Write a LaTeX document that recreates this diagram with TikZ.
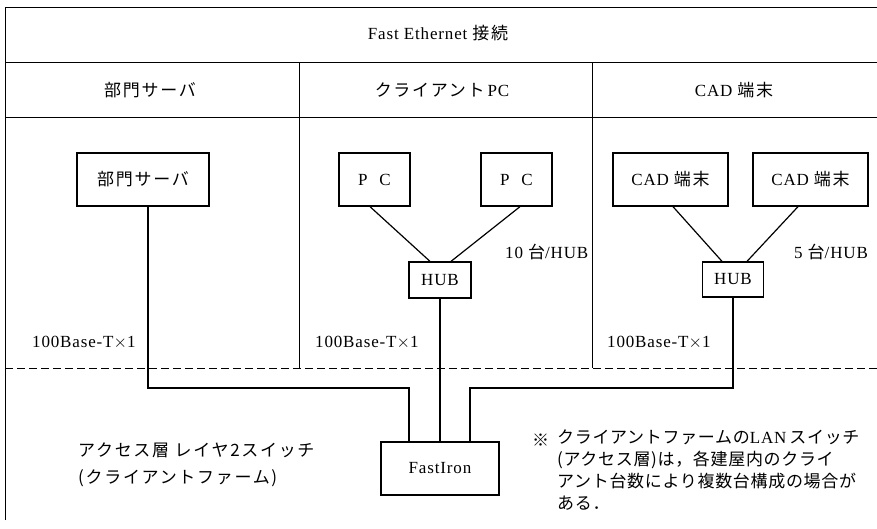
\documentclass[tikz,border=0pt]{standalone}
\usepackage{fontspec}
\setmainfont[LetterSpace=5]{Liberation Serif}
\newfontfamily\jp[LetterSpace=10]{Noto Sans CJK JP}
\newfontfamily\jpnote[LetterSpace=4]{Noto Sans CJK JP}
\newcommand\gap{\hspace{5pt}}
\begin{document}
\begin{tikzpicture}[x=1pt,y=-1pt,
  font=\fontsize{17}{20}\selectfont,
  frameline/.style={line width=1pt},
  sepline/.style={line width=1pt, dash pattern=on 8pt off 4pt},
  box/.style={draw, line width=1.3pt, inner sep=0pt, align=center},
  link/.style={line width=1.2pt},
  lbl/.style={anchor=west, inner sep=0pt}]
\useasboundingbox (0,0) rectangle (877,528);
\fill[white] (0,0) rectangle (877,528);

% outer frame and table rows
\coordinate (tl) at (5,7);
\coordinate (tr) at (877,7);
\coordinate (bl) at (5,520);
\draw[frameline] (bl) -- (tl) -- (tr);
\draw[frameline] (5,62) -- (877,62);
\draw[frameline] (5,117) -- (877,117);
\draw[frameline] (299,62) -- (299,368);
\draw[frameline] (592,62) -- (592,368);
\draw[sepline] (5,368) -- (877,368);

% headings
\node (hdr) at (438,33) {Fast Ethernet\gap{\jp 接続}};
\node (h1) at (150,90) {\jp 部門サーバ};
\node (h2) at (442,90) {{\jp クライアント}\hspace{3pt}PC};
\node (h3) at (734,90) {CAD\gap{\jp 端末}};

% devices
\node[box, minimum width=132pt, minimum height=53pt] (srv) at (143,179.5) {\jp 部門サーバ};
\node[box, minimum width=71pt, minimum height=53pt] (pc1) at (374.5,179.5) {P\hspace{0.7em}C};
\node[box, minimum width=71pt, minimum height=53pt] (pc2) at (516.5,179.5) {P\hspace{0.7em}C};
\node[box, minimum width=115pt, minimum height=53pt] (cad1) at (670.5,179.5) {CAD\gap{\jp 端末}};
\node[box, minimum width=115pt, minimum height=53pt] (cad2) at (810.5,179.5) {CAD\gap{\jp 端末}};
\node[box, minimum width=62pt, minimum height=36pt] (hub1) at (440,280) {HUB};
\node[box, minimum width=61pt, minimum height=35pt] (hub2) at (733,279.5) {HUB};
\node[box, minimum width=118pt, minimum height=53pt] (fi) at (440,468.5) {FastIron};

% links to the hubs
\draw[link] ([xshift=-4.5pt]pc1.south) -- ([xshift=-10pt]hub1.north);
\draw[link] ([xshift=3.5pt]pc2.south) -- ([xshift=11pt]hub1.north);
\draw[link] ([xshift=2.5pt]cad1.south) -- ([xshift=-11pt]hub2.north);
\draw[link] ([xshift=-12.5pt]cad2.south) -- ([xshift=14pt]hub2.north);

% uplinks to the access switch
\coordinate (bendL) at (409,388);
\coordinate (bendR) at (470,388);
\draw[link] ([xshift=5pt]srv.south) |- (bendL) -- ([xshift=-31pt]fi.north);
\draw[link] (hub1.south) -- (fi.north);
\draw[link] (hub2.south) |- (bendR) -- ([xshift=30pt]fi.north);

% link labels
\node[lbl] (r1) at (32,343) {100Base-T$\times$1};
\node[lbl] (r2) at (315,343) {100Base-T$\times$1};
\node[lbl] (r3) at (607,343) {100Base-T$\times$1};
\node[lbl] (n1) at (505,252) {10\gap{\jp 台}/HUB};
\node[lbl] (n2) at (794,252) {5\gap{\jp 台}/HUB};

% access layer caption
\node[lbl] (acc1) at (78,450) {\jp アクセス層 レイヤ2スイッチ};
\node[lbl] (acc2) at (78,478) {\jp (クライアントファーム)};

% footnote
\node[lbl] (mark) at (532,440) {\jpnote ※};
\node[anchor=north west, inner sep=0pt, align=left,
      font=\fontsize{17}{21.7}\selectfont] (note) at (557,430)
  {{\jpnote クライアントファームの}LAN\hspace{3pt}{\jpnote スイッチ}\\
   {\jpnote (アクセス層)は，各建屋内のクライ}\\
   {\jpnote アント台数により複数台構成の場合が}\\
   {\jpnote ある．}};
\end{tikzpicture}
\end{document}
